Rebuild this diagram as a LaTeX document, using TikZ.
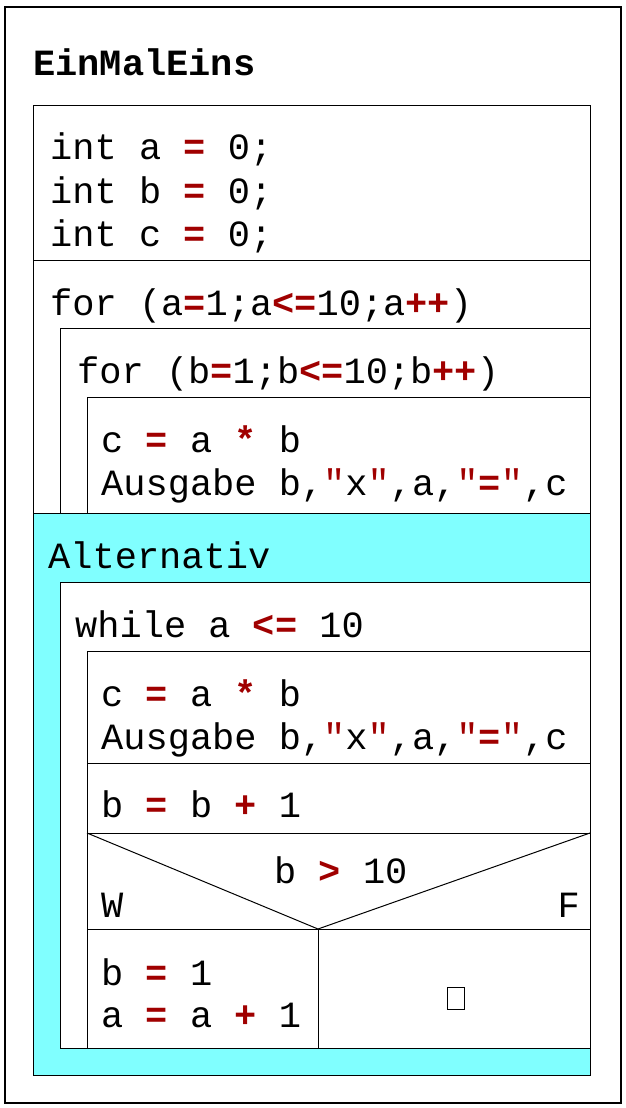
\documentclass[tikz,border=0pt]{standalone}
\usepackage{fontspec}
\setmonofont{Liberation Mono}
\definecolor{opred}{HTML}{A00000}
\definecolor{altcyan}{HTML}{80FFFF}
\newcommand\op[1]{\textcolor{opred}{\bfseries #1}}
\newcommand\qt{\textcolor{opred}{\char34}}
\newcommand\codefont{\ttfamily\fontsize{37}{43}\selectfont}
\tikzset{
  code/.style={anchor=base west, inner sep=0pt, font=\codefont},
  ln/.style={line width=1pt, draw=black},
}
\begin{document}
\begin{tikzpicture}[x=1pt,y=-1pt]
\useasboundingbox (0,0) rectangle (626,1108);
% outer frame
\draw[line width=1.8pt] (5,7) rectangle (621,1103);
% declarations box
\draw[ln] (33,105) rectangle (590,260);
% for a / for b / body outlines (upper part)
\draw[ln] (33,260) -- (33,513);
\draw[ln] (590,260) -- (590,513);
\draw[ln] (60,513) -- (60,328) -- (590,328);
\draw[ln] (87,513) -- (87,397) -- (590,397);
% alternative (cyan)
\draw[ln, fill=altcyan] (33,513) rectangle (590,1075);
\draw[ln, fill=white] (60,582) rectangle (590,1048);
\draw[ln] (87,1048) -- (87,651) -- (590,651);
\draw[ln] (87,763) -- (590,763);
\draw[ln] (87,833) -- (590,833);
\coordinate (tip) at (318,929);
\draw[ln] (87,833) -- (tip) -- (590,833);
\draw[ln] (87,929) -- (590,929);
\draw[ln] (tip) -- (318,1048);
% texts
\node[code, font=\codefont\bfseries] (title) at (33,76) {EinMalEins};
\node[code] (l1) at (50,159) {int a \op{=} 0;};
\node[code] (l2) at (50,203) {int b \op{=} 0;};
\node[code] (l3) at (50,246) {int c \op{=} 0;};
\node[code] (fora) at (50,315) {for (a\op{=}1;a\op{<=}10;a\op{++})};
\node[code] (forb) at (77,383) {for (b\op{=}1;b\op{<=}10;b\op{++})};
\node[code] (c1) at (101,452) {c \op{=} a \op{*} b};
\node[code] (aus1) at (101,495) {Ausgabe b,\qt x\qt,a,\qt\op{=}\qt,c};
\node[code] (alt) at (48,568) {Alternativ};
\node[code] (wh) at (75,637) {while a \op{<=} 10};
\node[code] (c2) at (101,706) {c \op{=} a \op{*} b};
\node[code] (aus2) at (101,749) {Ausgabe b,\qt x\qt,a,\qt\op{=}\qt,c};
\node[code] (bb) at (101,817) {b \op{=} b \op{+} 1};
\node[code] (cond) at (274,883) {b \op{>} 10};
\node[code] (w) at (101,917) {W};
\node[code, anchor=base east] (f) at (580,917) {F};
\node[code] (b1) at (101,985) {b \op{=} 1};
\node[code] (a1) at (101,1027) {a \op{=} a \op{+} 1};
\node[draw, line width=0.8pt, inner sep=0pt, minimum width=17pt, minimum height=22pt] (empty) at (455.5,998) {};
\end{tikzpicture}
\end{document}
